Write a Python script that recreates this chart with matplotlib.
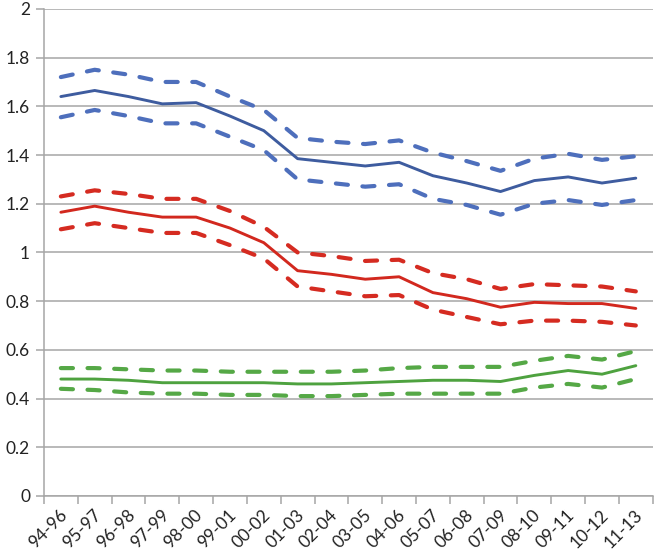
import matplotlib.pyplot as plt
import matplotlib.transforms as mtransforms
import numpy as np

periods = ['94-96', '95-97', '96-98', '97-99', '98-00', '99-01', '00-02', '01-03', '02-04',
           '03-05', '04-06', '05-07', '06-08', '07-09', '08-10', '09-11', '10-12', '11-13']

blue_mid = [1.64, 1.665, 1.64, 1.61, 1.615, 1.56, 1.50, 1.385, 1.37, 1.355, 1.37, 1.315,
            1.285, 1.25, 1.295, 1.31, 1.285, 1.305]
blue_hi = [1.72, 1.75, 1.73, 1.70, 1.70, 1.64, 1.585, 1.47, 1.455, 1.445, 1.46, 1.41,
           1.375, 1.335, 1.385, 1.405, 1.38, 1.395]
blue_lo = [1.555, 1.585, 1.56, 1.53, 1.53, 1.475, 1.42, 1.30, 1.285, 1.27, 1.28, 1.22,
           1.195, 1.155, 1.20, 1.215, 1.195, 1.215]

red_mid = [1.165, 1.19, 1.165, 1.145, 1.145, 1.10, 1.04, 0.925, 0.91, 0.89, 0.90, 0.835,
           0.81, 0.775, 0.795, 0.79, 0.79, 0.77]
red_hi = [1.23, 1.255, 1.24, 1.22, 1.22, 1.17, 1.105, 1.0, 0.985, 0.965, 0.97, 0.915,
          0.89, 0.85, 0.87, 0.865, 0.86, 0.84]
red_lo = [1.095, 1.12, 1.10, 1.08, 1.08, 1.03, 0.975, 0.86, 0.84, 0.82, 0.825, 0.765,
          0.735, 0.705, 0.72, 0.72, 0.715, 0.70]

green_mid = [0.48, 0.48, 0.475, 0.465, 0.465, 0.465, 0.465, 0.46, 0.46, 0.465, 0.47, 0.475,
             0.475, 0.47, 0.495, 0.515, 0.50, 0.535]
green_hi = [0.525, 0.525, 0.52, 0.515, 0.515, 0.51, 0.51, 0.51, 0.51, 0.515, 0.525, 0.53,
            0.53, 0.53, 0.555, 0.575, 0.56, 0.595]
green_lo = [0.44, 0.435, 0.425, 0.42, 0.42, 0.415, 0.415, 0.41, 0.41, 0.415, 0.42, 0.42,
            0.42, 0.42, 0.445, 0.46, 0.445, 0.48]

plt.rcParams['font.family'] = ['Lato', 'DejaVu Sans']

fig = plt.figure(figsize=(6.56, 5.56), dpi=100)
ax = fig.add_axes([0.067, 0.108, 0.928, 0.876])

x = np.arange(len(periods))
grid_c = '#a6a6a6'

def band(mid, hi, lo, c_mid, c_dash):
    ax.plot(x, mid, color=c_mid, lw=2.1, solid_capstyle='round', zorder=3)
    for s in (hi, lo):
        ax.plot(x, s, color=c_dash, lw=3.0, dashes=(2.9, 3.5),
                dash_capstyle='round', solid_joinstyle='round', zorder=3)

band(blue_mid, blue_hi, blue_lo, '#3e5c9f', '#4e6fbc')
band(red_mid, red_hi, red_lo, '#d2281e', '#d52b21')
band(green_mid, green_hi, green_lo, '#4ea23f', '#55a846')

ax.set_ylim(0, 2)
ax.set_xlim(-0.5, len(periods) - 0.5)
ax.set_yticks(np.arange(0, 2.01, 0.2))
ax.set_yticklabels(['0', '0.2', '0.4', '0.6', '0.8', '1', '1.2', '1.4', '1.6', '1.8', '2'])
ax.yaxis.grid(True, color=grid_c, lw=1.1)
ax.set_axisbelow(True)

ax.set_xticks(x)
ax.set_xticklabels(periods, rotation=45, ha='right', va='center', rotation_mode='anchor')
ax.set_xticks(np.arange(-0.5, len(periods)), minor=True)
ax.tick_params(axis='x', which='major', length=0, pad=12, labelsize=12.5, colors='#222222')
ax.tick_params(axis='x', which='minor', length=6, color=grid_c, width=1.1)
ax.tick_params(axis='y', length=6, color=grid_c, width=1.1, labelsize=12.5,
               labelcolor='#222222', pad=4)

# nudge the slanted labels a little to the right
shift = mtransforms.ScaledTranslation(4 / 100, 0, fig.dpi_scale_trans)
for lab in ax.get_xticklabels():
    lab.set_transform(lab.get_transform() + shift)

for side in ('top', 'right'):
    ax.spines[side].set_visible(False)
for side in ('left', 'bottom'):
    ax.spines[side].set_color(grid_c)
    ax.spines[side].set_linewidth(1.1)

fig.savefig('out.png', dpi=100)
